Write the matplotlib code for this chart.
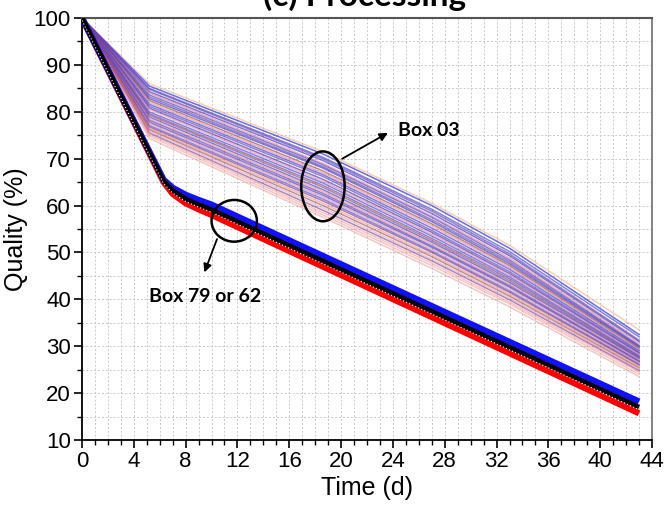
import matplotlib
matplotlib.use('Agg')
import matplotlib.pyplot as plt
import matplotlib.transforms as mtransforms
from matplotlib.patches import Ellipse
from matplotlib.ticker import MultipleLocator

plt.rcParams['font.family'] = ['Liberation Sans', 'DejaVu Sans']

# Box group (spread lines) - time points and quality at each
t_spread = [0, 5.2, 18.6, 27, 33, 43]
q_kink = [86.0, 85.5, 85.0, 84.8, 84.3, 84.0, 83.6, 83.2, 82.8, 82.4, 82.0,
          81.6, 81.2, 80.8, 80.5, 80.0, 79.6, 79.3, 78.9, 78.5, 78.2, 77.8,
          77.5, 77.1, 76.8, 76.5, 76.2, 75.9, 75.5, 75.2, 74.8, 74.3]
q_d18 = [71.5, 71.0, 70.3, 70.0, 69.6, 69.0, 68.7, 68.3, 68.0, 67.4, 67.0,
         66.6, 66.2, 65.6, 65.2, 64.8, 64.3, 63.9, 63.4, 63.0, 62.6, 62.2,
         61.8, 61.4, 61.0, 60.5, 60.0, 59.5, 59.0, 58.5, 58.0, 57.5]
q_d27 = [60.5, 60.0, 59.2, 58.8, 58.3, 57.8, 57.5, 57.0, 56.6, 56.1, 55.7,
         55.2, 54.7, 54.3, 53.9, 53.5, 53.0, 52.6, 52.2, 51.8, 51.4, 51.1,
         50.7, 50.3, 50.0, 49.5, 49.1, 48.6, 48.2, 47.7, 47.2, 46.6]
q_d33 = [51.5, 50.9, 50.2, 49.7, 49.3, 48.8, 48.4, 48.0, 47.6, 47.2, 46.8,
         46.4, 45.9, 45.5, 45.2, 44.8, 44.4, 44.0, 43.6, 43.2, 42.9, 42.6,
         42.2, 41.8, 41.5, 41.1, 40.7, 40.3, 39.9, 39.4, 39.0, 38.4]
q_d43 = [33.5, 32.5, 32.0, 31.3, 31.0, 30.6, 30.2, 30.0, 29.8, 29.5, 29.2,
         29.0, 28.7, 28.5, 28.3, 28.0, 27.8, 27.6, 27.4, 27.1, 26.9, 26.7,
         26.5, 26.2, 26.0, 25.7, 25.4, 25.1, 24.8, 24.5, 24.0, 23.5]

# Box 79 / 62 group - three tight bands
t_tight = [0, 6.3, 7, 8, 9, 10, 43]
q_blue = [100, 65.5, 63.8, 62.3, 61.2, 60.2, 18.2]
q_black = [100, 65.2, 63.2, 61.4, 60.2, 59.1, 17.0]
q_red = [100, 65.0, 62.5, 60.5, 59.2, 58.0, 15.7]

x_ticks = list(range(0, 45, 4))
y_ticks = list(range(10, 101, 10))

# line colours for the spread group
palette = [('#f0a070', 0.5), ('#3030d0', 0.7), ('#4040e0', 0.65), ('#6a3aa0', 0.65),
           ('#3030d0', 0.65), ('#f06060', 0.5), ('#4040d8', 0.65), ('#7a3a88', 0.65),
           ('#3030d0', 0.65), ('#8a4a58', 0.65), ('#f06868', 0.5), ('#3838d8', 0.65),
           ('#6a3aa0', 0.65), ('#3030d0', 0.65), ('#f07070', 0.5), ('#4040e0', 0.65),
           ('#6a3aa0', 0.65), ('#8a4a58', 0.65), ('#3838d8', 0.65), ('#f06868', 0.5),
           ('#6a3aa0', 0.65), ('#3838d8', 0.65), ('#f07070', 0.5), ('#4040d8', 0.6),
           ('#7a3a88', 0.65), ('#f07070', 0.5), ('#8a4a58', 0.6), ('#f07878', 0.45),
           ('#6a3aa0', 0.6), ('#f07878', 0.45), ('#f08080', 0.45), ('#f08080', 0.45)]

fig = plt.figure(figsize=(6.66, 5.12), dpi=100)
ax = fig.add_axes([0.1231, 0.1406, 0.8559, 0.8242])

for i in range(len(q_kink)):
    col, a = palette[i]
    ax.plot(t_spread, [100, q_kink[i], q_d18[i], q_d27[i], q_d33[i], q_d43[i]],
            color=col, alpha=a, lw=1.1, zorder=2)

ax.plot(t_tight, q_red, color='#ff0000', lw=4.5, zorder=3, solid_capstyle='butt')
ax.plot(t_tight, q_blue, color='#1010ff', lw=4.5, zorder=3, solid_capstyle='butt')
ax.plot(t_tight, q_black, color='#000000', lw=3.5, zorder=4, solid_capstyle='butt')
off = mtransforms.ScaledTranslation(0, -2.5 / 100, fig.dpi_scale_trans)
ax.plot(t_tight, q_black, color='white', lw=0.8, ls=(0, (1, 2)), zorder=5,
        transform=ax.transData + off)

# annotations
ax.add_patch(Ellipse((18.6, 64.1), 3.35, 14.9, fill=False, ec='black', lw=1.8, zorder=6))
ax.annotate('', xy=(23.8, 75.8), xytext=(19.9, 69.7),
            arrowprops=dict(arrowstyle='-|>', color='black', lw=1.3, mutation_scale=12), zorder=6)
ax.text(24.4, 76.1, 'Box 03', fontsize=14, fontweight='bold', family=['Lato', 'DejaVu Sans'],
        va='center', ha='left', zorder=6)

ax.add_patch(Ellipse((11.75, 56.75), 3.5, 8.9, fill=False, ec='black', lw=1.8, zorder=6))
ax.annotate('', xy=(9.37, 45.2), xytext=(10.5, 53.4),
            arrowprops=dict(arrowstyle='-|>', color='black', lw=1.3, mutation_scale=12), zorder=6)
ax.text(9.5, 40.6, 'Box 79 or 62', fontsize=14, fontweight='bold', family=['Lato', 'DejaVu Sans'],
        va='center', ha='center', zorder=6)

ax.set_xlim(0, 44)
ax.set_ylim(10, 100)
ax.set_xticks(x_ticks)
ax.set_yticks(y_ticks)
ax.xaxis.set_minor_locator(MultipleLocator(1))
ax.yaxis.set_minor_locator(MultipleLocator(5))
ax.grid(True, which='both', color='#c8c8c8', ls=(0, (2, 2)), lw=0.7, zorder=0)
ax.set_axisbelow(True)
ax.tick_params(which='major', direction='out', length=6, width=1.2, labelsize=16, pad=2)
ax.tick_params(which='minor', direction='out', length=3.5, width=1.0)
ax.set_xlabel('Time (d)', fontsize=18, labelpad=3)
ax.set_ylabel('Quality (%)', fontsize=18, labelpad=4)
for s in ['left', 'bottom']:
    ax.spines[s].set_linewidth(1.3)
ax.spines['top'].set_color('#555555')
ax.spines['top'].set_linewidth(1.5)
ax.spines['right'].set_color('#777777')
ax.spines['right'].set_linewidth(1.3)

fig.text(0.547, 1 - 6 / 512, '(c) Processing', fontsize=24, fontweight='bold',
         family=['Lato', 'DejaVu Sans'], ha='center', va='baseline')

fig.savefig('out.png', dpi=100)
